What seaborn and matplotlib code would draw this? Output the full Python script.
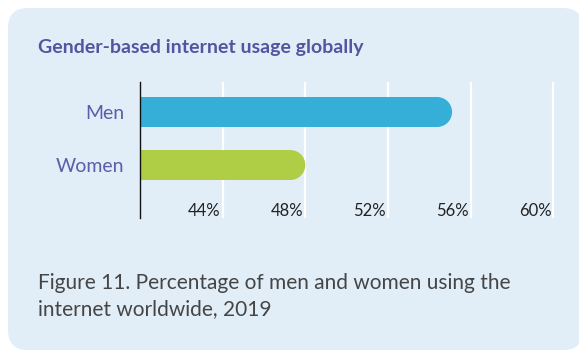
import matplotlib
matplotlib.use("Agg")
import matplotlib.pyplot as plt
from matplotlib.patches import FancyBboxPatch, Ellipse
import matplotlib.transforms as mtransforms
import seaborn as sns
import pandas as pd

# Data
genders = ["Men", "Women"]
usage_pct = [55.1, 48.0]
tick_values = [44, 48, 52, 56, 60]
tick_labels = ["44%", "48%", "52%", "56%", "60%"]
bar_colors = ["#35aed8", "#afcd45"]

title = "Gender-based internet usage globally"
caption_lines = ["Figure 11. Percentage of men and women using the",
                 "internet worldwide, 2019"]

sns.set_theme(style="white")
plt.rcParams["font.family"] = ["Lato", "DejaVu Sans"]

W, H = 579, 351
fig = plt.figure(figsize=(W / 100, H / 100), dpi=100)
fig.patch.set_facecolor("white")

# Rounded card background (pixel coordinates)
card = FancyBboxPatch((8, 1), 575, 342,
                      boxstyle="round,pad=0,rounding_size=20",
                      transform=mtransforms.IdentityTransform(),
                      facecolor="#e1eef8", edgecolor="none", zorder=-5)
fig.patches.append(card)

# Axes placement (pixels measured from the top-left corner)
x0, x1 = 140, 574
y_top, y_bot = 82, 218
ax = fig.add_axes([x0 / W, (H - y_bot) / H, (x1 - x0) / W, (y_bot - y_top) / H])
ax.set_facecolor("none")
ax.set_zorder(2)

df = pd.DataFrame({"gender": genders, "pct": usage_pct})
sns.barplot(data=df, x="pct", y="gender", hue="gender", palette=bar_colors,
            orient="h", width=0.566, legend=False, ax=ax, saturation=1)

xmin, xmax = 40, 61
ax.set_xlim(xmin, xmax)
ax.set_ylim(2.0, -0.566)

# white vertical gridlines
for v in tick_values:
    ax.axvline(v, color="white", lw=1.6, zorder=0.5)

# Rounded right ends on the bars
px_per_unit = (x1 - x0) / (xmax - xmin)
r_px = 15
rx = r_px / px_per_unit
for p, color in zip(list(ax.patches), bar_colors):
    x, y, w, h = p.get_x(), p.get_y(), p.get_width(), p.get_height()
    end = x + w
    p.set_x(xmin)
    p.set_width(end - rx - xmin)
    p.set_edgecolor("none")
    p.set_zorder(2)
    ax.add_patch(Ellipse((end - rx, y + h / 2), 2 * rx, h, facecolor=p.get_facecolor(),
                         edgecolor="none", zorder=2))

# Spines
for s in ["top", "right", "bottom"]:
    ax.spines[s].set_visible(False)
ax.spines["left"].set_color("#111111")
ax.spines["left"].set_linewidth(1.0)
ax.spines["left"].set_zorder(3)

ax.set_xticks([])
ax.set_xlabel("")
ax.set_ylabel("")
ax.tick_params(axis="y", length=0, pad=11.5)
for lbl in ax.get_yticklabels():
    lbl.set_color("#5b5ea8")
    lbl.set_fontsize(14)
    lbl.set_fontweight("normal")

# Percentage labels sitting left of each gridline
trans = mtransforms.blended_transform_factory(ax.transData, ax.transAxes)
off = mtransforms.offset_copy(trans, fig=fig, x=-2, y=0, units="dots")
for v, t in zip(tick_values, tick_labels):
    ax.text(v, (y_bot - 211) / (y_bot - y_top), t, transform=off, ha="right",
            va="center", fontsize=12, color="#222222")

fig.text(38 / W, 1 - 47 / H, title, fontsize=14, fontweight="bold",
         color="#5355a0", ha="left", va="center")
for line, ypx in zip(caption_lines, [283, 309]):
    fig.text(38 / W, 1 - ypx / H, line, fontsize=15, color="#454545",
             ha="left", va="center")

fig.savefig("out.png", dpi=100, facecolor="white")
